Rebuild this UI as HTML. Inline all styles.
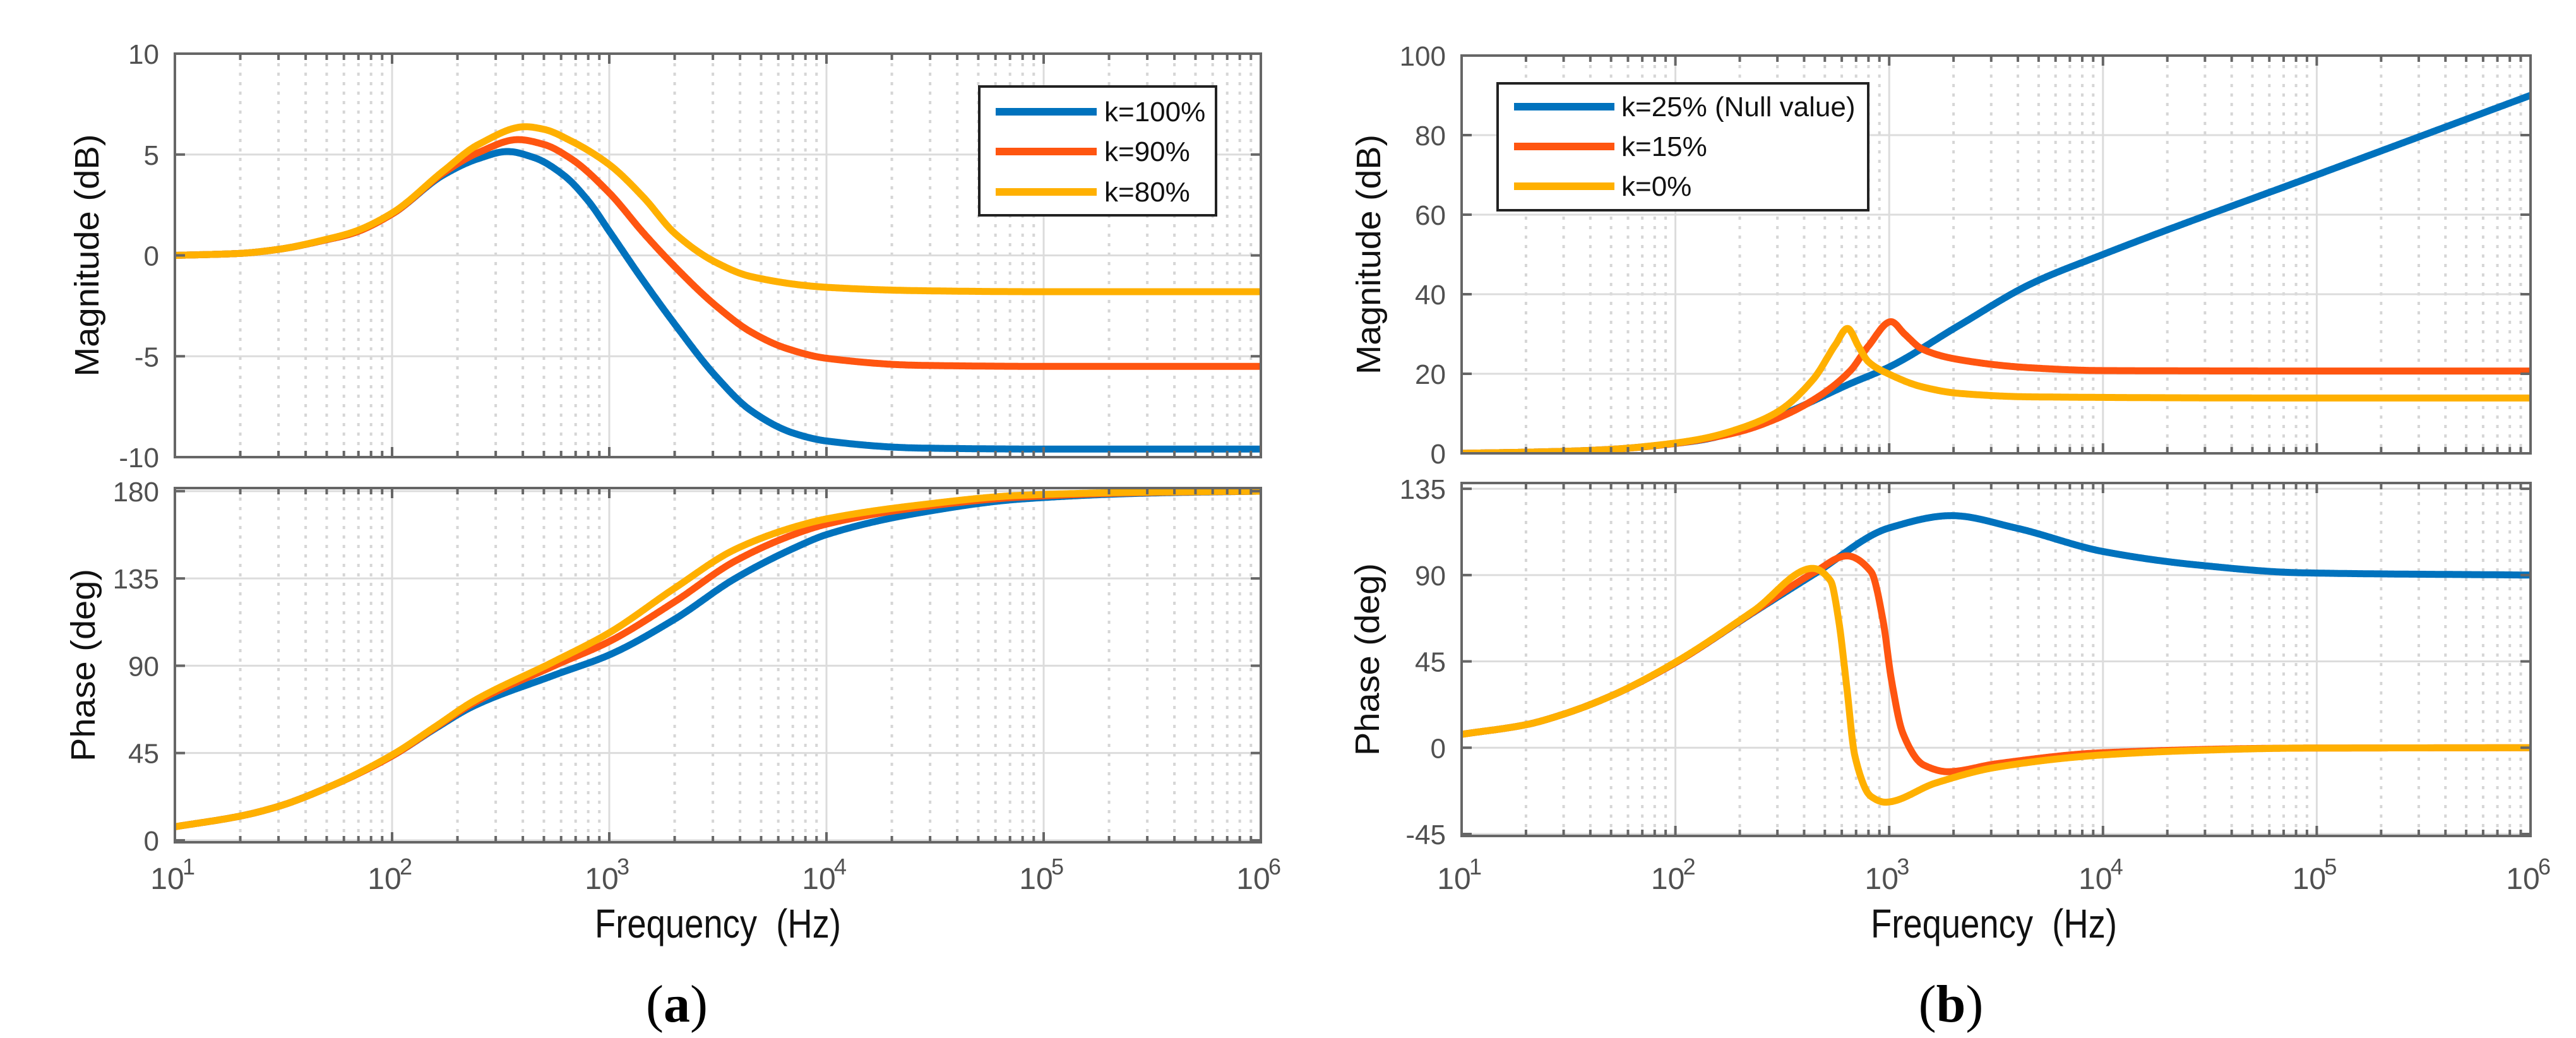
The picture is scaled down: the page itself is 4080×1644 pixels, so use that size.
<!DOCTYPE html>
<html>
<head>
<meta charset="utf-8">
<style>
  html,body{margin:0;padding:0;background:#fff;}
  svg{display:block;}
  text{font-family:"Liberation Sans",Arial,sans-serif;}
</style>
</head>
<body>
<svg id="fig" xmlns="http://www.w3.org/2000/svg" width="4080" height="1644" viewBox="0 0 4080 1644">
  <rect x="0" y="0" width="4080" height="1644" fill="#fff"/>
</svg>
<script>
// ---------- Panel (a) magnitude ----------
const aMag100F = [10,20,30,50,66,100,173,250,340,450,616,800,1000,1400,2000,3100,4500,7000,10000,27000,100000,1000000];
const aMag100V = [0,0.1,0.3,0.78,1.1,2.05,4.0,4.8,5.15,4.85,3.98,2.7,1.2,-1.1,-3.4,-6.0,-7.7,-8.8,-9.2,-9.55,-9.6,-9.6];
const aMag90F = [10,20,30,50,66,100,173,250,380,500,665,1000,1440,2000,3100,4500,6500,10000,27000,100000,1000000];
const aMag90V = [0,0.1,0.3,0.78,1.1,2.05,4.1,5.1,5.74,5.5,4.8,3.1,1.1,-0.55,-2.5,-3.8,-4.6,-5.1,-5.45,-5.5,-5.5];
const aMag80F = [10,20,30,50,66,100,173,250,411,500,665,1000,1440,2000,3100,4500,10000,27000,100000,1000000];
const aMag80V = [0,0.1,0.3,0.8,1.15,2.1,4.2,5.5,6.38,6.25,5.68,4.5,2.87,1.1,-0.35,-1.05,-1.58,-1.75,-1.8,-1.8];
// ---------- Panel (a) phase ----------
const aPhF = [10,20,30,50,100,160,235,553,1000,2000,3800,7200,10000,26000,80000,300000,1000000];
const aPh100V = [7,12.5,17.5,27,43.5,58,69,85,95.6,114,135,151,157.6,168.6,176,179,180];
const aPh90V = [7,12.5,17.5,27,43.5,58.5,70.5,89.8,102.5,123,144,158,163,171.5,177,179.3,180];
const aPh80V = [7,12.5,17.5,27,44,59,71.5,92,107,130,150,161.7,165.7,172.7,177.9,179.5,180];
// ---------- Panel (b) magnitude ----------
const bMag25F = [10,30,50,100,137,300,656,1000,2100,4600,10000,100000,1000000];
const bMag25V = [0,0.5,1.0,2.5,3.5,9.3,17.5,21.7,32,42.6,50,70,90];
const bMag15F = [10,30,50,100,137,204,300,444,656,800,1020,1180,1430,2100,4600,10000,100000,1000000];
const bMag15V = [0,0.5,1.0,2.5,3.6,5.6,8.8,13.5,20.7,27,33.1,30,26.2,23.6,21.5,20.8,20.7,20.7];
const bMag0F = [10,30,50,100,137,204,300,444,560,638,720,800,1000,1430,2100,4600,100000,1000000];
const bMag0V = [0,0.5,1.0,2.6,3.8,6.4,10.4,18.8,27.3,31.4,26.8,23,19.9,16.7,15.1,14.2,13.9,13.9];
// ---------- Panel (b) phase ----------
const bPh25F = [10,20,30,50,98,233,447,1000,1960,3900,10000,27500,85000,1000000];
const bPh25V = [7,12,17.5,27,43.7,70.7,90.6,114.6,121,114.6,102.3,95.3,91.2,90];
const bPh15F = [10,20,30,50,98,233,447,634,822,937,1020,1160,1450,1880,3160,10000,85000,1000000];
const bPh15V = [7,12,17.5,27,43.7,71,91.5,100,91.8,66,36.7,7.4,-9,-12.5,-8.4,-2.6,-0.2,0];
const bPh0F = [10,20,30,50,98,233,439,532,581,634,691,822,958,1650,3160,10000,27500,85000,1000000];
const bPh0V = [7,12,17.5,27,44,71.5,93.5,87,66,31,-4.3,-25.4,-28.4,-18.4,-10.2,-3.75,-1.4,-0.2,0];
// ---------- ticks / legends ----------
const xDecades = [1,2,3,4,5,6];
const aMagTicks = [10,5,0,-5,-10];
const aPhTicks = [180,135,90,45,0];
const bMagTicks = [100,80,60,40,20,0];
const bPhTicks = [135,90,45,0,-45];
const aLegend = ["k=100%","k=90%","k=80%"];
const bLegend = ["k=25% (Null value)","k=15%","k=0%"];

const COLORS = ["#0072BD","#FF5510","#FFB000"];
const NS = "http://www.w3.org/2000/svg";
const svg = document.getElementById('fig');
function el(tag, attrs, parent){
  const e = document.createElementNS(NS, tag);
  for (const k in attrs) e.setAttribute(k, attrs[k]);
  (parent||svg).appendChild(e);
  return e;
}
// monotone cubic (Fritsch-Carlson) in log-frequency space
function monotone(xsArr, ysArr){
  const n = xsArr.length, d = [], m = new Array(n);
  for (let i = 0; i < n - 1; i++) d.push((ysArr[i+1] - ysArr[i]) / (xsArr[i+1] - xsArr[i]));
  m[0] = d[0]; m[n-1] = d[n-2];
  for (let i = 1; i < n - 1; i++) {
    if (d[i-1] * d[i] <= 0) m[i] = 0;
    else {
      const h0 = xsArr[i] - xsArr[i-1], h1 = xsArr[i+1] - xsArr[i];
      const w1 = 2*h1 + h0, w2 = h1 + 2*h0;
      m[i] = (w1 + w2) / (w1 / d[i-1] + w2 / d[i]);
    }
  }
  return function(x){
    let i = 0;
    while (i < n - 2 && x > xsArr[i+1]) i++;
    const h = xsArr[i+1] - xsArr[i], t = Math.min(1, Math.max(0, (x - xsArr[i]) / h));
    const t2 = t*t, t3 = t2*t;
    return (2*t3 - 3*t2 + 1)*ysArr[i] + (t3 - 2*t2 + t)*h*m[i] + (-2*t3 + 3*t2)*ysArr[i+1] + (t3 - t2)*h*m[i+1];
  };
}
let clipId = 0;
function makeAxes(o){
  const g = el('g', {});
  
  
  const xs = f => o.x0 + (Math.log10(f) - 1) * (o.x1 - o.x0) / 5;
  const xu = u => o.x0 + (u - 1) * (o.x1 - o.x0) / 5;
  const ys = v => o.y0 + (o.ymax - v) * (o.y1 - o.y0) / (o.ymax - o.ymin);
  const grid = el('g', {}, g);
  
  
  for (let d = 1; d < 6; d++) {
    for (let m = 2; m <= 9; m++) {
      const x = xs(m * Math.pow(10, d));
      const ln = el('line', {x1:x, x2:x, y1:o.y0, y2:o.y1, stroke:'#d6d6d6', 'stroke-width':4, 'stroke-dasharray':'5 10'}, grid);
      
      
    }
  }
  xDecades.forEach(d => {
    const x = xs(Math.pow(10, d));
    const ln = el('line', {x1:x, x2:x, y1:o.y0, y2:o.y1, stroke:'#dcdcdc', 'stroke-width':3}, grid);
    
    
  });
  o.yticks.forEach(v => {
    const y = ys(v);
    const ln = el('line', {x1:o.x0, x2:o.x1, y1:y, y2:y, stroke:'#dcdcdc', 'stroke-width':3}, grid);
    
    
  });
  clipId++;
  const cp = el('clipPath', {id:'c' + clipId}, g);
  el('rect', {x:o.x0, y:o.y0, width:o.x1 - o.x0, height:o.y1 - o.y0}, cp);
  o.series.forEach((s, i) => {
    const us = s.f.map(f => Math.log10(f));
    const fn = monotone(us, s.v);
    const u0 = us[0], u1 = us[us.length - 1];
    const N = 1200;
    let d = '';
    for (let k = 0; k <= N; k++) {
      const u = u0 + (u1 - u0) * k / N;
      d += (k ? ' L' : 'M') + xu(u).toFixed(1) + ',' + ys(fn(u)).toFixed(1);
    }
    const p = el('path', {d:d, fill:'none', stroke:COLORS[i], 'stroke-width':11, 'stroke-linejoin':'round', 'clip-path':'url(#c' + clipId + ')'}, g);
    
    
  });
  const fr = el('rect', {x:o.x0, y:o.y0, width:o.x1 - o.x0, height:o.y1 - o.y0, fill:'none', stroke:'#666', 'stroke-width':4}, g);
  
  
  for (let d = 1; d <= 6; d++) {
    for (let m = 1; m <= 9; m++) {
      if (d === 6 && m > 1) break;
      const x = xs(m * Math.pow(10, d));
      const L = m === 1 ? 16 : 10;
      el('line', {x1:x, x2:x, y1:o.y1, y2:o.y1 - L, stroke:'#666', 'stroke-width':4}, g);
      el('line', {x1:x, x2:x, y1:o.y0, y2:o.y0 + L, stroke:'#666', 'stroke-width':4}, g);
    }
  }
  o.yticks.forEach(v => {
    const y = ys(v);
    el('line', {x1:o.x0, x2:o.x0 + 16, y1:y, y2:y, stroke:'#666', 'stroke-width':4}, g);
    el('line', {x1:o.x1, x2:o.x1 - 16, y1:y, y2:y, stroke:'#666', 'stroke-width':4}, g);
    const t = el('text', {x:o.x0 - 25, y:y + 16, 'text-anchor':'end', 'font-size':44, fill:'#505050'}, g);
    t.textContent = String(v);
    
    
  });
  if (o.xlabels) {
    xDecades.forEach(dd => {
      const x = xs(Math.pow(10, dd));
      const t = el('text', {x:x - 12, y:1408, 'text-anchor':'middle', 'font-size':48, fill:'#505050'}, g);
      t.textContent = '10';
      
      
      const s = el('text', {x:x + 12, y:1385, 'text-anchor':'start', 'font-size':36, fill:'#505050'}, g);
      s.textContent = String(dd);
      
      
    });
  }
  const cy = (o.y0 + o.y1) / 2;
  const yl = el('text', {x:0, y:0, transform:'translate(' + (o.ylx + 19) + ',' + cy + ') rotate(-90)', 'text-anchor':'middle', 'font-size':54, fill:'#111', textLength:o.ylw, lengthAdjust:'spacingAndGlyphs'}, g);
  yl.textContent = o.ylabel;
  
  
  if (o.legend) {
    const L = o.legend;
    const lg = el('g', {}, g);
    
    
    el('rect', {x:L.x, y:L.y, width:L.w, height:L.h, fill:'#fff', stroke:'#222', 'stroke-width':4}, lg);
    L.labels.forEach((lab, i) => {
      const y = L.ry[i];
      const entry = el('g', {}, lg);
      
      
      el('line', {x1:L.lx0, x2:L.lx1, y1:y, y2:y, stroke:COLORS[i], 'stroke-width':12}, entry);
      const t = el('text', {x:L.tx, y:y + 15, 'font-size':44, fill:'#111'}, entry);
      t.textContent = lab;
    });
  }
  return g;
}

makeAxes({name:'a-magnitude', x0:277, x1:1997, y0:85, y1:724, ymin:-10, ymax:10, yticks:aMagTicks,
  series:[{f:aMag100F, v:aMag100V, label:'k100'},{f:aMag90F, v:aMag90V, label:'k90'},{f:aMag80F, v:aMag80V, label:'k80'}],
  ylabel:'Magnitude (dB)', ylx:137, ylw:384,
  legend:{x:1551, y:137, w:375, h:204, lx0:1577, lx1:1737, tx:1749, ry:[177,240,304], labels:aLegend}});
makeAxes({name:'a-phase', x0:277, x1:1997, y0:773, y1:1334, ymin:-1, ymax:181.6, yticks:aPhTicks,
  series:[{f:aPhF, v:aPh100V, label:'k100'},{f:aPhF, v:aPh90V, label:'k90'},{f:aPhF, v:aPh80V, label:'k80'}],
  ylabel:'Phase (deg)', ylx:131, ylw:305, xlabels:true});
makeAxes({name:'b-magnitude', x0:2315, x1:4008, y0:88, y1:718, ymin:0, ymax:100, yticks:bMagTicks,
  series:[{f:bMag25F, v:bMag25V, label:'k25'},{f:bMag15F, v:bMag15V, label:'k15'},{f:bMag0F, v:bMag0V, label:'k0'}],
  ylabel:'Magnitude (dB)', ylx:2167, ylw:380,
  legend:{x:2372, y:132, w:587, h:201, lx0:2398, lx1:2557, tx:2568, ry:[169,232,295], labels:bLegend}});
makeAxes({name:'b-phase', x0:2315, x1:4008, y0:765, y1:1324, ymin:-46, ymax:138, yticks:bPhTicks,
  series:[{f:bPh25F, v:bPh25V, label:'k25'},{f:bPh15F, v:bPh15V, label:'k15'},{f:bPh0F, v:bPh0V, label:'k0'}],
  ylabel:'Phase (deg)', ylx:2165, ylw:305, xlabels:true});

[[1137,'a-x-axis-title'],[3158,'b-x-axis-title']].forEach(p => {
  const t = el('text', {x:p[0], y:1485, 'text-anchor':'middle', 'font-size':64, fill:'#111', textLength:390, lengthAdjust:'spacingAndGlyphs'});
  t.textContent = 'Frequency\u00a0 (Hz)';
  
  
});
[[1072,'a','caption-a'],[3090,'b','caption-b']].forEach(p => {
  const t = el('text', {x:p[0], y:1618, 'text-anchor':'middle', 'font-size':84, fill:'#000', style:'font-family:"Liberation Serif",serif'});
  
  
  const a = el('tspan', {}, t); a.textContent = '(';
  const b = el('tspan', {'font-weight':'bold'}, t); b.textContent = p[1];
  const c = el('tspan', {}, t); c.textContent = ')';
});
</script>
</body>
</html>
